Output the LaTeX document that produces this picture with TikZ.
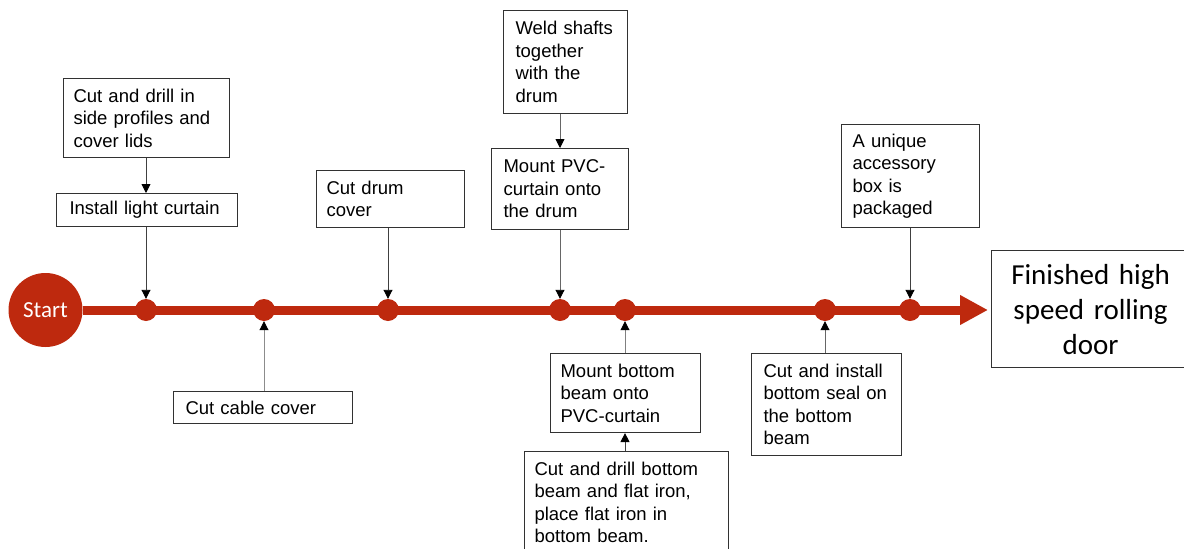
\documentclass[tikz,border=0pt]{standalone}
\usepackage{fontspec}
\setmainfont{Liberation Sans}
\newfontfamily\calib{Carlito}
\usetikzlibrary{arrows.meta}
\definecolor{tlred}{RGB}{190,41,14}
\definecolor{boxline}{RGB}{50,50,50}
\tikzset{
  stepbox/.style={draw=boxline, line width=1.1pt, anchor=north west, align=left,
    inner xsep=10pt, inner ysep=2pt, font=\fontsize{18.5}{22.5}\selectfont, text=black},
  dot/.style={circle, fill=tlred, minimum size=22pt, inner sep=0pt},
  conn/.style={draw=black!75, line width=0.9pt, -{Triangle[length=9pt,width=9pt,color=black]}},
}
\begin{document}
\begin{tikzpicture}[x=1pt,y=-1pt]
\clip (0,0) rectangle (1184,549);
\fill[white] (0,0) rectangle (1184,549);
% main line
\node[circle, fill=tlred, minimum size=74pt, inner sep=0pt, text=white,
  font=\calib\fontsize{23}{26}\selectfont] (start) at (45.5,310) {Start};
\coordinate (tip) at (988,310);
\draw[tlred, line width=9pt, -{Triangle[length=28pt,width=28pt]}] (start.east) -- (tip);
\node[dot] (d1) at (146,310) {};
\node[dot] (d2) at (264,310) {};
\node[dot] (d3) at (388,310) {};
\node[dot] (d4) at (560,310) {};
\node[dot] (d5) at (625,310) {};
\node[dot] (d6) at (825,310) {};
\node[dot] (d7) at (910,310) {};
% boxes
\node[stepbox, minimum width=166pt, minimum height=79pt, text width=146pt] (A) at (63,78)
  {Cut and drill in\\side profiles and\\cover lids};
\node[stepbox, minimum width=177pt, minimum height=33pt, text width=155pt, inner xsep=13pt] (B) at (56,193)
  {Install light curtain};
\node[stepbox, minimum width=179pt, minimum height=32pt, text width=155pt, inner xsep=12pt] (C) at (173,391)
  {Cut cable cover};
\node[stepbox, minimum width=148pt, minimum height=57pt, text width=128pt, inner xsep=10pt] (D) at (316,170)
  {Cut drum\\cover};
\node[stepbox, minimum width=124pt, minimum height=103pt, text width=100pt, inner xsep=12pt] (E) at (503,10)
  {Weld shafts\\together\\with the\\drum};
\node[stepbox, minimum width=137pt, minimum height=81pt, text width=113pt, inner xsep=12pt] (F) at (491,148)
  {Mount PVC-\\curtain onto\\the drum};
\node[stepbox, minimum width=150pt, minimum height=79pt, text width=130pt] (G) at (550,353)
  {Mount bottom\\beam onto\\PVC-curtain};
\node[stepbox, minimum width=204pt, minimum height=102pt, text width=184pt] (H) at (524,451)
  {Cut and drill bottom\\beam and flat iron,\\place flat iron in\\bottom beam.};
\node[stepbox, minimum width=150pt, minimum height=102pt, text width=126pt, inner xsep=12pt] (I) at (751,353)
  {Cut and install\\bottom seal on\\the bottom\\beam};
\node[stepbox, minimum width=138pt, minimum height=103pt, text width=116pt, inner xsep=11pt] (J) at (841,124)
  {A unique\\accessory\\box is\\packaged};
\node[draw=boxline, line width=1.1pt, anchor=north west, align=center,
  minimum width=198pt, minimum height=117pt, text width=190pt, inner xsep=4pt,
  font=\calib\fontsize{29}{35}\selectfont] (K) at (991,250)
  {Finished high\\speed rolling\\door};
% connectors
\draw[conn] (A.south -| d1) -- (B.north -| d1);
\draw[conn] (B.south -| d1) -- (d1.north);
\draw[conn, draw=black!45] (C.north -| d2) -- (d2.south);
\draw[conn] (D.south -| d3) -- (d3.north);
\draw[conn, draw=black!60] (E.south -| d4) -- (F.north -| d4);
\draw[conn, draw=black!60] (F.south -| d4) -- (d4.north);
\draw[conn, draw=black!50] (G.north -| d5) -- (d5.south);
\draw[conn] (H.north -| d5) -- (G.south -| d5);
\draw[conn, draw=black!60] (I.north -| d6) -- (d6.south);
\draw[conn] (J.south -| d7) -- (d7.north);
\end{tikzpicture}
\end{document}
